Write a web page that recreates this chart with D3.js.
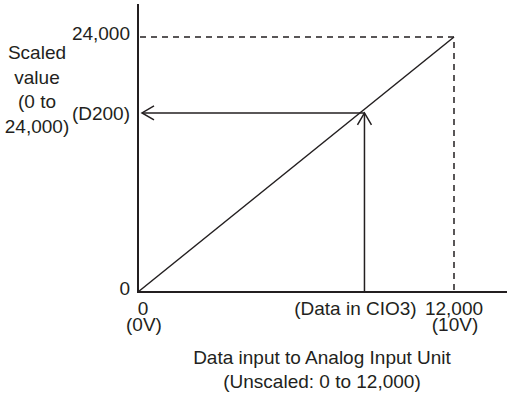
<!DOCTYPE html>
<html><head><meta charset="utf-8">
<script src="https://cdn.jsdelivr.net/npm/d3@7"></script>
<style>
html,body{margin:0;padding:0;background:#fff;}
svg{display:block;}
text{font-family:"Liberation Sans",Arial,Helvetica,sans-serif;font-size:19px;fill:#231f20;}
</style></head>
<body>
<svg id="chart" width="507" height="396"></svg>
<script>
// ---- data ----
const xDomain = [0, 12000];
const yDomain = [0, 24000];
const xTicks = [0, 12000];
const xTickLabels = ["0", "12,000"];
const xSubLabels = ["(0V)", "(10V)"];
const yTicks = [0, 24000];
const yTickLabels = ["0", "24,000"];
const lineX = [0, 12000];
const lineY = [0, 24000];
const cioValue = 8600;     // data in CIO3
const d200Value = 16850;   // scaled value in D200
const cioLabel = "(Data in CIO3)";
const d200Label = "(D200)";
const yTitle = ["Scaled", "value", "(0 to", "24,000)"];
const xTitle = ["Data input to Analog Input Unit", "(Unscaled: 0 to 12,000)"];

// ---- drawing ----
const svg = d3.select("#chart");
const ink = "#231f20";
const x = d3.scaleLinear().domain(xDomain).range([138, 454]);
const y = d3.scaleLinear().domain(yDomain).range([292, 37]);

// axes lines
svg.append("line").attr("x1", x(0)).attr("x2", x(0)).attr("y1", y(0)+1).attr("y2", 4)
  .attr("stroke", ink).attr("stroke-width", 2);
svg.append("line").attr("x1", x(0)-1).attr("x2", 507).attr("y1", y(0)).attr("y2", y(0))
  .attr("stroke", ink).attr("stroke-width", 2);

// y tick labels
svg.selectAll(".ytl").data(yTicks).enter().append("text")
  .attr("x", x(0) - 8).attr("y", d => y(d) + 3)
  .attr("text-anchor", "end")
  .text((d, i) => yTickLabels[i]);

// x tick labels
svg.selectAll(".xtl").data(xTicks).enter().append("text")
  .attr("x", (d, i) => x(d) + (i === 0 ? 5 : 0)).attr("y", y(0) + 23)
  .attr("text-anchor", "middle")
  .text((d, i) => xTickLabels[i]);
svg.selectAll(".xsl").data(xTicks).enter().append("text")
  .attr("x", (d, i) => x(d) + (i === 0 ? 6 : 1)).attr("y", y(0) + 39)
  .attr("text-anchor", "middle")
  .text((d, i) => xSubLabels[i]);

// dashed guides for max
svg.append("path")
  .attr("d", `M${x(0)+2},${y(yDomain[1])}H${x(xDomain[1])}V${y(0)}`)
  .attr("fill", "none").attr("stroke", ink).attr("stroke-width", 1.5)
  .attr("stroke-dasharray", "6,5");

// scaling line
const line = d3.line().x(d => x(d[0])).y(d => y(d[1]));
svg.append("path").datum(lineX.map((v, i) => [v, lineY[i]]))
  .attr("d", line).attr("fill", "none").attr("stroke", ink).attr("stroke-width", 1.5);

// arrows
const cx = x(cioValue), cy = y(d200Value);
svg.append("line").attr("x1", cx).attr("x2", cx).attr("y1", y(0)).attr("y2", cy)
  .attr("stroke", ink).attr("stroke-width", 1.5);
svg.append("path").attr("d", `M${cx-7},${cy+12}L${cx},${cy}L${cx+7},${cy+12}`)
  .attr("fill", "none").attr("stroke", ink).attr("stroke-width", 1.5);
svg.append("line").attr("x1", cx).attr("x2", x(0)+4).attr("y1", cy).attr("y2", cy)
  .attr("stroke", ink).attr("stroke-width", 1.5);
svg.append("path").attr("d", `M${x(0)+16},${cy-7}L${x(0)+4},${cy}L${x(0)+16},${cy+7}`)
  .attr("fill", "none").attr("stroke", ink).attr("stroke-width", 1.5);

// value labels
svg.append("text").attr("x", x(0) - 8).attr("y", cy + 7).attr("text-anchor", "end").text(d200Label);
svg.append("text").attr("x", cx - 9).attr("y", y(0) + 23).attr("text-anchor", "middle").text(cioLabel);

// titles
svg.selectAll(".yt").data(yTitle).enter().append("text")
  .attr("x", 37).attr("y", (d, i) => 59 + i * 24.5)
  .attr("text-anchor", "middle").text(d => d);
svg.selectAll(".xt").data(xTitle).enter().append("text")
  .attr("x", 322).attr("y", (d, i) => 364 + i * 24)
  .attr("text-anchor", "middle").text(d => d);
</script>
</body></html>
